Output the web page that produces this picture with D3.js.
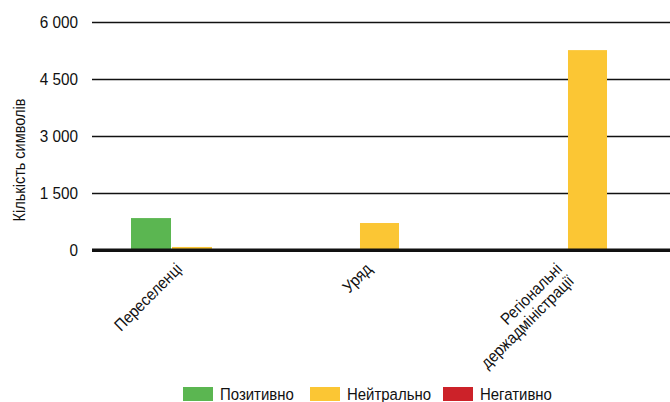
<!DOCTYPE html>
<html>
<head>
<meta charset="utf-8">
<script src="https://cdn.jsdelivr.net/npm/d3@7"></script>
<style>
  body { margin: 0; background: #fff; }
  svg { display: block; font-family: "Liberation Sans", Arial, sans-serif; }
</style>
</head>
<body>
<div id="chart"></div>
<script>
(function() {

  var width = 670,
      height = 402;

  // data
  var categories = ["Переселенці", "Уряд", "Регіональні держадміністрації"];
  var categoryLines = [["Переселенці"], ["Уряд"], ["Регіональні", "держадміністрації"]];
  var seriesNames = ["Позитивно", "Нейтрально", "Негативно"];
  var positive = [840, 0, 0];
  var neutral = [80, 710, 5260];
  var negative = [0, 0, 0];
  var yTicks = [0, 1500, 3000, 4500, 6000];
  var seriesColors = ["#5bb651", "#fbc634", "#cc2229"];

  var values = [positive, neutral, negative];

  var plotLeft = 92, plotRight = 670, plotTop = 22, plotBottom = 250;

  var svg = d3.select("#chart").append("svg")
      .attr("width", width)
      .attr("height", height);

  var y = d3.scaleLinear()
      .domain([0, 6000])
      .range([plotBottom, plotTop]);

  // category bands (bars centred on the non-empty series in each group)
  var x0 = d3.scaleBand()
      .domain(categories)
      .range([67.5, 691.5]);

  // label positions along the axis
  var xl = d3.scalePoint()
      .domain(categories)
      .range([183, 563]);

  var color = d3.scaleOrdinal()
      .domain(seriesNames)
      .range(seriesColors);

  var locale = d3.formatLocale({ decimal: ",", thousands: " ", grouping: [3], currency: ["", ""] });
  var fmt = locale.format(",d");

  // y axis + grid
  var yAxis = svg.append("g")
      .attr("transform", "translate(" + plotLeft + ",0)")
      .call(d3.axisLeft(y)
        .tickValues(yTicks)
        .tickSize(-(plotRight - plotLeft))
        .tickPadding(14)
        .tickFormat(fmt));

  yAxis.select(".domain").remove();
  yAxis.selectAll(".tick line")
      .attr("stroke", "#111")
      .attr("stroke-width", function(d) { return d === 0 ? 3 : 1.4; });
  // narrow look: squeeze the text horizontally
  yAxis.selectAll(".tick text")
      .attr("fill", "#111")
      .style("font-size", "17px")
      .attr("transform", function() { return "translate(" + d3.select(this).attr("x") + ",0) scale(0.9,1)"; })
      .attr("x", 0);

  // bars
  var groups = svg.append("g").attr("class", "bars")
    .selectAll("g")
      .data(categories)
    .enter().append("g");

  groups.each(function(cat, ci) {
    var present = seriesNames.filter(function(s, si) { return values[si][ci] > 0; });
    var c = x0(cat) + x0.bandwidth() / 2;
    var span = present.length * 41 - 1;
    var x1 = d3.scaleBand()
        .domain(present)
        .range([c - span / 2, c + span / 2])
        .paddingInner(1 / 41)
        .paddingOuter(0);

    d3.select(this).selectAll("rect")
        .data(present)
      .enter().append("rect")
        .attr("x", function(s) { return x1(s); })
        .attr("width", x1.bandwidth())
        .attr("y", function(s) { return y(values[seriesNames.indexOf(s)][ci]); })
        .attr("height", function(s) { return y(0) - y(values[seriesNames.indexOf(s)][ci]); })
        .attr("fill", function(s) { return color(s); });
  });

  // redraw the zero line on top of the bars
  svg.append("line")
      .attr("x1", plotLeft)
      .attr("x2", plotRight)
      .attr("y1", y(0))
      .attr("y2", y(0))
      .attr("stroke", "#111")
      .attr("stroke-width", 3);

  // category labels
  var labels = svg.append("g").attr("class", "xlabels")
    .selectAll("text")
      .data(categories)
    .enter().append("text")
      .attr("text-anchor", "end")
      .attr("fill", "#111")
      .style("font-size", "16.5px")
      .attr("transform", function(d) { return "translate(" + xl(d) + "," + 270 + ") rotate(-45) scale(0.9,1)"; });

  labels.each(function(d, i) {
    d3.select(this).selectAll("tspan")
        .data(categoryLines[i])
      .enter().append("tspan")
        .attr("x", 0)
        .attr("dy", function(l, j) { return j === 0 ? 0 : "1.03em"; })
        .text(function(l) { return l; });
  });

  // y axis title
  svg.append("text")
      .attr("transform", "translate(25,160) rotate(-90) scale(0.88,1)")
      .attr("text-anchor", "middle")
      .attr("fill", "#111")
      .style("font-size", "16.5px")
      .text("Кількість символів");

  // legend
  var legendX = [183, 310, 443];
  var legend = svg.append("g").attr("class", "legend")
    .selectAll("g")
      .data(seriesNames)
    .enter().append("g")
      .attr("transform", function(d, i) { return "translate(" + legendX[i] + ",387)"; });

  legend.append("rect")
      .attr("width", 30)
      .attr("height", 14)
      .attr("fill", function(d) { return color(d); });

  legend.append("text")
      .attr("transform", "translate(37,13) scale(0.88,1)")
      .attr("fill", "#111")
      .style("font-size", "17px")
      .text(function(d) { return d; });

})();
</script>
</body>
</html>
